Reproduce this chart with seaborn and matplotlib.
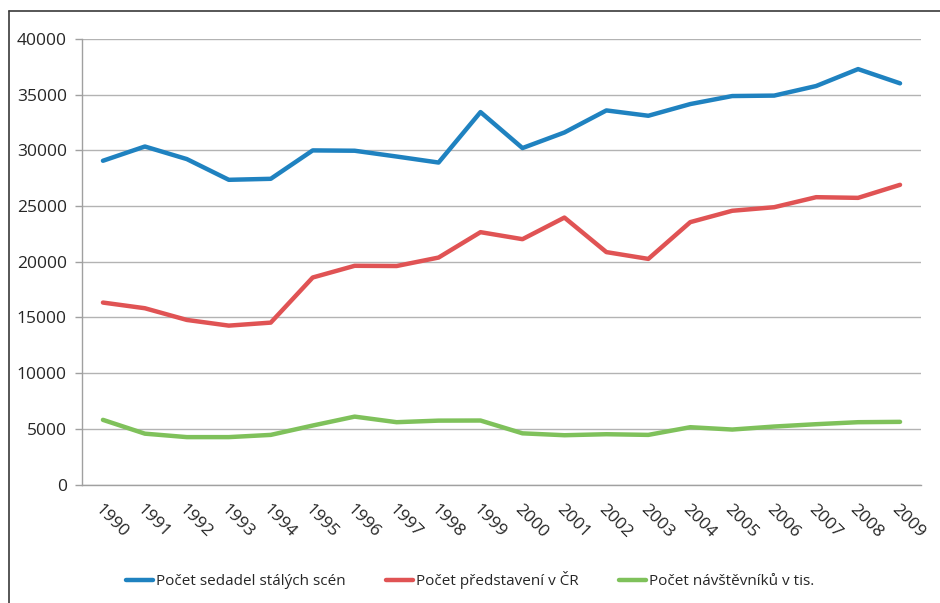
import matplotlib
matplotlib.use("Agg")
import matplotlib.pyplot as plt
from matplotlib.lines import Line2D
import seaborn as sns
import pandas as pd

years = [str(y) for y in range(1990, 2010)]
sedadla = [29070, 30350, 29220, 27360, 27450, 30000, 29970, 29450, 28910, 33440,
           30210, 31610, 33590, 33110, 34160, 34880, 34920, 35780, 37300, 36020]
predstaveni = [16340, 15830, 14780, 14270, 14540, 18590, 19640, 19620, 20380, 22660,
               22030, 23970, 20870, 20260, 23560, 24580, 24900, 25800, 25740, 26910]
navstevnici = [5810, 4570, 4260, 4260, 4460, 5300, 6100, 5600, 5740, 5750,
               4600, 4430, 4520, 4460, 5150, 4940, 5210, 5420, 5600, 5630]
series_names = ["Počet sedadel stálých scén", "Počet představení v ČR", "Počet návštěvníků v tis."]
colors = ["#1f82c0", "#e05354", "#7fc15b"]
yticks = list(range(0, 40001, 5000))

df = pd.DataFrame({"year": years * 3,
                   "value": sedadla + predstaveni + navstevnici,
                   "series": [series_names[0]] * 20 + [series_names[1]] * 20 + [series_names[2]] * 20})

sns.set_style("white")
plt.rcParams["font.family"] = ["Open Sans", "DejaVu Sans"]

fig = plt.figure(figsize=(9.4, 6.03), dpi=100)
ax = fig.add_axes([0.0872, 0.1964, 0.8926, 0.7389])

sns.lineplot(data=df, x="year", y="value", hue="series", hue_order=series_names,
             palette=colors, linewidth=3.2, ax=ax, legend=False, sort=False)
for l in ax.lines:
    l.set_solid_capstyle("round")
    l.set_solid_joinstyle("round")

ax.set_xlim(-0.5, len(years) - 0.5)
ax.set_ylim(0, 40000)
ax.set_xlabel("")
ax.set_ylabel("")
ax.set_yticks(yticks)
ax.set_yticklabels([str(v) for v in yticks], fontsize=12.5, color="#262626")
ax.yaxis.grid(True, color="#b3b3b3", linewidth=1.0)
ax.xaxis.grid(False)
ax.set_axisbelow(True)

ax.set_xticks(range(len(years)))
ax.set_xticklabels(years, rotation=-45, ha="left", va="top", rotation_mode="anchor",
                   fontsize=12.5, color="#262626")
ax.set_xticks([i - 0.5 for i in range(len(years) + 1)], minor=True)
ax.tick_params(axis="x", which="major", length=0, pad=12)
ax.tick_params(axis="x", which="minor", length=5, color="#a0a0a0", width=1)
ax.tick_params(axis="y", which="major", length=5, color="#a0a0a0", width=1, pad=6, left=True)

for side in ["top", "right"]:
    ax.spines[side].set_visible(False)
for side in ["left", "bottom"]:
    ax.spines[side].set_color("#a0a0a0")
    ax.spines[side].set_linewidth(1)

handles = [Line2D([0], [0], color=c, linewidth=3.2, solid_capstyle="round") for c in colors]
fig.legend(handles, series_names, loc="center", bbox_to_anchor=(0.5, 1 - 580 / 603),
           ncol=3, frameon=False, fontsize=11, handlelength=1.8, handletextpad=0.2,
           columnspacing=2.6, labelcolor="#262626")

# outer chart border (left and top only visible)
fig.add_artist(Line2D([9 / 940, 1.0], [1 - 11 / 603, 1 - 11 / 603], transform=fig.transFigure,
                      color="#3a3a3a", linewidth=1.2))
fig.add_artist(Line2D([9 / 940, 9 / 940], [0, 1 - 11 / 603], transform=fig.transFigure,
                      color="#3a3a3a", linewidth=1.2))

fig.savefig("out.png", dpi=100, facecolor="white")
